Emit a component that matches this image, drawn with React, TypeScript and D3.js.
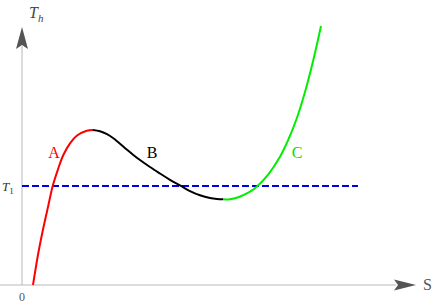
import React from "react";
import * as d3 from "d3";

// curve pieces (S, T)
const branchA: [number, number][] = [
  [0.275, 0], [0.408, 1.231], [0.533, 2.192], [0.658, 3.058], [0.768, 3.808],
  [0.908, 4.488], [1.033, 5.0], [1.2, 5.45], [1.368, 5.742], [1.618, 5.935],
  [1.775, 5.962],
];
const branchB: [number, number][] = [
  [1.775, 5.962], [1.95, 5.912], [2.125, 5.8], [2.275, 5.654], [2.4, 5.5],
  [2.525, 5.335], [2.65, 5.169], [2.775, 5.012], [2.95, 4.808], [3.2, 4.538],
  [3.45, 4.288], [3.7, 4.046], [3.975, 3.808], [4.2, 3.612], [4.45, 3.45],
  [4.7, 3.346], [4.875, 3.308], [5.025, 3.296],
];
const branchC: [number, number][] = [
  [5.025, 3.296], [5.2, 3.3], [5.408, 3.377], [5.658, 3.55], [5.868, 3.781],
  [6.158, 4.258], [6.45, 4.935], [6.658, 5.592], [6.868, 6.404], [7.075, 7.423],
  [7.283, 8.654], [7.475, 9.962],
];
const T1 = 3.81;
const lineEnd = 8.4;
const labels = [
  { text: "A", s: 0.8, t: 5.08, color: "#ff0000" },
  { text: "B", s: 3.25, t: 5.08, color: "#000000" },
  { text: "C", s: 6.88, t: 5.08, color: "#00e000" },
];

const W = 436;
const H = 305;

export default function App() {
  const x = d3.scaleLinear().domain([0, 10]).range([22, 422]);
  const y = d3.scaleLinear().domain([0, 10]).range([285, 25]);

  const line = d3
    .line<[number, number]>()
    .x((d) => x(d[0]))
    .y((d) => y(d[1]))
    .curve(d3.curveCatmullRom.alpha(0.5));

  const x0 = x(0);
  const y0 = y(0);
  const serif = "'Liberation Serif', 'DejaVu Serif', serif";

  return (
    <svg
      width={W}
      height={H}
      style={{ position: "absolute", left: 0, top: 0, background: "#fff" }}
    >
      {/* axes */}
      <line x1={0} x2={396} y1={y0} y2={y0} stroke="#b8b8b8" strokeWidth={1} />
      <line x1={x0} x2={x0} y1={y0} y2={46} stroke="#b8b8b8" strokeWidth={1} />
      <path
        d={`M${x0},27 L${x0 + 6},49 L${x0},45 L${x0 - 6},49 Z`}
        fill="#555"
      />
      <path
        d={`M416,${y0} L394,${y0 - 5.5} L398,${y0} L394,${y0 + 5.5} Z`}
        fill="#555"
      />

      {/* T1 level */}
      <line
        x1={x0}
        x2={x(lineEnd)}
        y1={y(T1)}
        y2={y(T1)}
        stroke="#0000e6"
        strokeWidth={2}
        strokeDasharray="7,3"
      />

      <path d={line(branchA) ?? ""} fill="none" stroke="#ff0000" strokeWidth={2} />
      <path d={line(branchB) ?? ""} fill="none" stroke="#000000" strokeWidth={2} />
      <path d={line(branchC) ?? ""} fill="none" stroke="#00ee00" strokeWidth={2} />

      {labels.map((l) => (
        <text
          key={l.text}
          x={x(l.s)}
          y={y(l.t)}
          fill={l.color}
          fontFamily={serif}
          fontSize={16}
          textAnchor="middle"
          dominantBaseline="central"
        >
          {l.text}
        </text>
      ))}

      <text x={29} y={18} fontFamily={serif} fontSize={16} fontStyle="italic" fill="#444">
        T
        <tspan fontSize={11} dy={4}>h</tspan>
      </text>
      <text x={2} y={191} fontFamily={serif} fontSize={13} fontStyle="italic" fill="#333">
        T
        <tspan fontSize={9} dy={3} fontStyle="normal">1</tspan>
      </text>
      <text x={423} y={290} fontFamily={serif} fontSize={16} fill="#555">
        S
      </text>
      <text x={x0} y={301} fontFamily={serif} fontSize={12} fill="#555" textAnchor="middle">
        0
      </text>
    </svg>
  );
}
